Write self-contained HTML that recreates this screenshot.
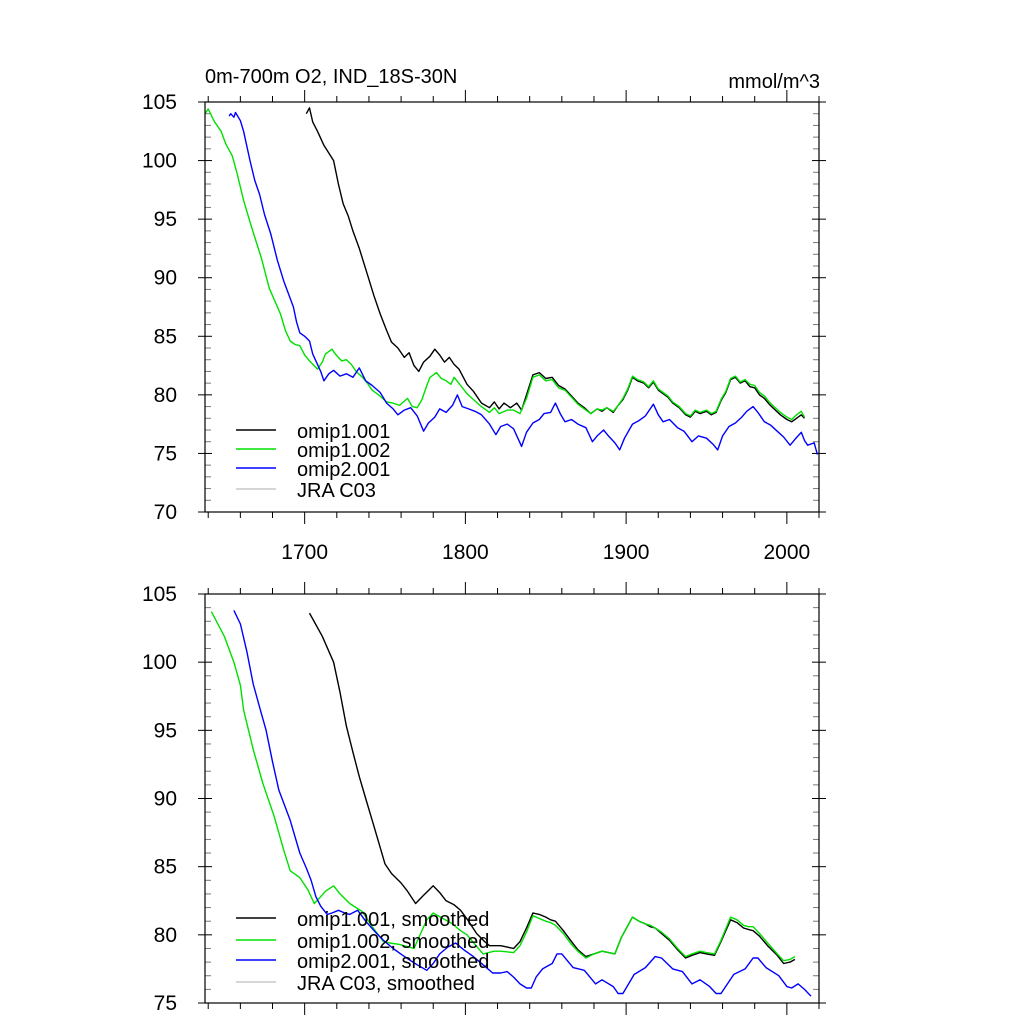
<!DOCTYPE html>
<html><head><meta charset="utf-8"><style>
body{margin:0;background:#fff}
svg{display:block;font-family:"Liberation Sans",sans-serif}
</style></head><body>
<svg id="c" width="1024" height="1024" viewBox="0 0 1024 1024">
<rect width="1024" height="1024" fill="#fff"/>
<text x="205" y="83" font-size="20">0m-700m O2, IND_18S-30N</text>
<text x="820" y="88" font-size="20" text-anchor="end">mmol/m^3</text>
</svg>
<script>
const xTicks=[1700,1800,1900,2000];
const yTicksTop=[70,75,80,85,90,95,100,105];
const yTicksBot=[75,80,85,90,95,100,105];
const legendTop=["omip1.001","omip1.002","omip2.001","JRA C03"];
const legendBot=["omip1.001, smoothed","omip1.002, smoothed","omip2.001, smoothed","JRA C03, smoothed"];
const colors=["#000","#00e000","#0000ff","#c8c8c8"];

const topBlackYr=[1701,1703,1705,1708,1712,1718,1721,1724,1727,1730,1734,1739,1743,1747,1751,1754,1758,1762,1765,1768,1771,1774,1778,1781,1784,1787,1790,1793,1796,1801,1805,1810,1815,1818,1821,1824,1828,1832,1835,1838,1842,1846,1850,1854,1858,1862,1866,1870,1874,1878,1882,1885,1888,1892,1895,1898,1901,1904,1907,1911,1914,1917,1920,1923,1926,1929,1933,1937,1940,1943,1946,1950,1953,1956,1959,1962,1965,1968,1971,1974,1977,1980,1983,1986,1989,1992,1996,2000,2003,2006,2009,2011];
const topBlackVal=[104.0,104.5,103.3,102.5,101.3,100,98,96.3,95.3,94,92.5,90.3,88.5,86.9,85.5,84.5,84,83.2,83.6,82.5,82,82.8,83.3,83.9,83.4,82.8,83.2,82.6,82.2,80.9,80.3,79.3,78.9,79.4,78.8,79.3,78.9,79.3,78.7,80.0,81.7,81.9,81.4,81.5,80.8,80.5,79.9,79.3,78.9,78.4,78.8,78.6,78.9,78.5,79.1,79.6,80.4,81.5,81.2,81.0,80.6,81.1,80.4,80.1,79.8,79.3,78.9,78.3,78.1,78.6,78.4,78.6,78.3,78.5,79.5,80.2,81.3,81.5,81.0,81.2,80.7,80.6,80.0,79.7,79.2,78.8,78.3,77.9,77.7,78.0,78.3,78.0];

const topGreenYr=[1638,1640,1644,1648,1651,1655,1658,1662,1667,1673,1678,1685,1688,1691,1694,1697,1700,1703,1708,1711,1713,1717,1719,1723,1726,1729,1732,1736,1739,1742,1746,1751,1755,1759,1764,1767,1770,1773,1776,1778,1782,1785,1788,1791,1793,1797,1801,1805,1809,1815,1818,1821,1826,1830,1834,1838,1842,1846,1850,1854,1858,1862,1866,1870,1874,1878,1882,1885,1888,1892,1895,1898,1901,1904,1907,1911,1914,1917,1920,1923,1926,1929,1933,1937,1940,1943,1946,1950,1953,1956,1959,1962,1965,1968,1971,1974,1977,1980,1983,1986,1989,1992,1996,2000,2003,2006,2009,2011];
const topGreenVal=[104,104.4,103.3,102.5,101.4,100.4,98.9,96.6,94.3,91.7,89.1,86.9,85.5,84.6,84.3,84.2,83.4,82.9,82.2,82.8,83.5,83.9,83.5,82.9,83.0,82.6,82.0,81.5,81.0,80.4,80.0,79.4,79.3,79.1,79.7,79.0,78.9,79.6,80.8,81.5,81.9,81.4,81.2,80.9,81.5,80.8,80.1,79.6,79.1,78.5,78.9,78.4,78.7,78.7,78.4,79.7,81.5,81.7,81.2,81.3,80.6,80.4,79.8,79.2,78.8,78.4,78.8,78.7,78.9,78.6,79.1,79.7,80.5,81.6,81.3,81.1,80.7,81.2,80.5,80.2,79.9,79.4,79.0,78.4,78.2,78.7,78.5,78.7,78.4,78.6,79.6,80.3,81.4,81.6,81.1,81.3,80.9,80.8,80.2,79.9,79.4,79.0,78.5,78.1,77.9,78.3,78.6,78.1];

const topBlueYr=[1653,1654,1656,1657,1660,1662,1666,1669,1672,1675,1679,1683,1687,1690,1693,1695,1697,1700,1703,1705,1707,1710,1712,1715,1718,1722,1726,1730,1734,1738,1742,1747,1751,1755,1758,1762,1766,1770,1774,1777,1781,1784,1788,1792,1795,1798,1802,1806,1810,1815,1819,1822,1826,1830,1835,1838,1842,1846,1849,1853,1856,1859,1862,1866,1870,1875,1879,1882,1886,1889,1893,1896,1899,1904,1908,1912,1917,1920,1923,1927,1932,1936,1941,1945,1950,1954,1957,1960,1964,1968,1972,1975,1979,1982,1986,1990,1994,1998,2002,2005,2009,2011,2013,2017,2019];
const topBlueVal=[103.8,104.0,103.7,104.1,103.4,102.5,100.0,98.3,97.1,95.4,93.7,91.5,89.7,88.6,87.5,86.2,85.3,85.0,84.6,83.5,82.9,82.0,81.2,81.8,82.1,81.6,81.8,81.5,82.3,81.2,80.8,80.2,79.3,78.8,78.3,78.7,78.9,78.2,76.9,77.6,78.1,78.8,78.5,79.1,80.0,79.0,78.8,78.6,78.3,77.5,76.6,77.3,77.5,77.1,75.6,76.8,77.6,77.9,78.4,78.5,79.3,78.4,77.7,77.9,77.5,77.2,76.0,76.5,77.0,76.5,75.9,75.3,76.3,77.5,77.8,78.2,79.2,78.3,77.7,77.9,77.2,76.9,76.0,76.5,76.3,75.8,75.3,76.5,77.3,77.6,78.1,78.6,79.0,78.5,77.7,77.4,76.9,76.4,75.7,76.2,76.8,76.1,75.7,75.9,74.9];

const botBlackYr=[1703,1711,1718,1722,1726,1730,1734,1738,1742,1746,1750,1754,1760,1764,1769,1774,1780,1784,1788,1793,1797,1802,1807,1812,1815,1822,1826,1830,1834,1838,1842,1846,1850,1853,1856,1861,1866,1870,1875,1880,1885,1889,1893,1897,1904,1908,1912,1915,1918,1922,1927,1932,1937,1941,1946,1950,1955,1959,1965,1969,1973,1976,1979,1983,1988,1994,1998,2002,2005];
const botBlackVal=[103.6,101.9,100,97.8,95.3,93.4,91.6,90.0,88.4,86.8,85.2,84.5,83.8,83.2,82.3,82.9,83.6,83.1,82.5,82.2,81.8,81.0,80.1,79.5,79.2,79.2,79.1,79.0,79.5,80.5,81.6,81.5,81.3,81.1,81.0,80.3,79.5,78.9,78.4,78.6,78.8,78.7,78.6,79.8,81.3,81.0,80.8,80.6,80.5,80.1,79.6,78.9,78.3,78.5,78.7,78.6,78.5,79.5,81.1,80.9,80.5,80.4,80.3,79.9,79.2,78.5,77.9,78.0,78.2];

const botGreenYr=[1642,1650,1656,1660,1662,1668,1674,1681,1687,1691,1697,1702,1706,1710,1713,1718,1722,1728,1732,1736,1742,1749,1753,1759,1768,1771,1776,1780,1786,1792,1797,1801,1806,1811,1818,1822,1830,1834,1838,1842,1846,1850,1853,1856,1861,1866,1870,1875,1880,1885,1889,1893,1897,1904,1908,1912,1915,1918,1922,1927,1932,1937,1941,1946,1950,1955,1959,1965,1969,1973,1976,1979,1983,1988,1994,1998,2002,2005];
const botGreenVal=[103.7,101.9,100.0,98.3,96.5,93.6,91.1,88.7,86.2,84.7,84.2,83.3,82.3,82.8,83.2,83.6,83.0,82.3,82.0,81.7,80.6,79.5,79.4,79.3,79.0,79.8,81.1,81.6,81.2,80.8,80.3,80.0,79.3,78.6,78.8,78.8,78.7,79.2,80.2,81.4,81.2,81.0,80.9,80.7,80.1,79.3,78.8,78.3,78.6,78.8,78.7,78.6,79.8,81.3,81.0,80.8,80.7,80.5,80.2,79.7,79.0,78.4,78.6,78.8,78.7,78.6,79.6,81.3,81.1,80.7,80.6,80.6,80.1,79.4,78.6,78.1,78.2,78.4];

const botBlueYr=[1656,1660,1664,1668,1672,1676,1680,1684,1691,1697,1701,1704,1707,1710,1714,1717,1721,1725,1728,1733,1738,1744,1749,1755,1761,1766,1770,1776,1780,1784,1789,1794,1799,1805,1811,1817,1822,1826,1830,1834,1838,1841,1844,1848,1854,1857,1860,1867,1874,1881,1885,1892,1895,1898,1905,1912,1918,1922,1929,1935,1941,1946,1952,1956,1959,1967,1974,1979,1982,1987,1995,2000,2003,2007,2011,2015];
const botBlueVal=[103.8,102.8,100.8,98.4,96.7,95.0,92.7,90.6,88.4,86.0,84.9,84.0,82.8,82.1,81.5,81.6,81.8,81.6,81.5,81.8,81.0,80.2,79.6,79.0,78.5,78.1,77.8,77.4,77.9,78.6,79.1,79.4,78.9,78.4,77.8,77.2,77.2,77.3,76.9,76.4,76.1,76.1,76.9,77.5,77.9,78.6,78.6,77.6,77.4,76.4,76.7,76.2,75.7,75.7,77.1,77.6,78.4,78.3,77.5,77.3,76.4,76.7,76.2,75.7,75.7,77.1,77.5,78.3,78.3,77.6,77.0,76.2,76.1,76.4,76.0,75.5];

const svg=document.getElementById('c');
const NS='http://www.w3.org/2000/svg';
const X0=205,X1=819,YR0=1638,YR1=2020;
function xs(yr){return X0+(yr-YR0)*(X1-X0)/(YR1-YR0);}
function mk(tag,attrs,parent){const e=document.createElementNS(NS,tag);for(const k in attrs)e.setAttribute(k,attrs[k]);(parent||svg).appendChild(e);return e;}

function panel(name,top,bot,vmin,vmax,yTicks,series,legend,legY){
  const g=mk('g',{});
  
  
  const ys=v=>bot-(v-vmin)*(bot-top)/(vmax-vmin);
  for(let yr=1640;yr<=2020;yr+=20){
    const major=yr%100===0;const L=major?12:6;const x=xs(yr);
    const t1=mk('line',{x1:x,x2:x,y1:top,y2:top-L,stroke:'#000','stroke-width':1},g);
    
    
    const t2=mk('line',{x1:x,x2:x,y1:bot,y2:bot+L,stroke:'#000','stroke-width':1},g);
    
    
  }
  for(let v=vmin;v<=vmax;v+=1){
    const y=ys(v);const major=v%5===0;
    if(major){
      mk('line',{x1:X0-7,x2:X0+7,y1:y,y2:y,stroke:'#000','stroke-width':1},g);
      mk('line',{x1:X1-7,x2:X1+7,y1:y,y2:y,stroke:'#000','stroke-width':1},g);
    }else{
      mk('line',{x1:X0,x2:X0+6,y1:y,y2:y,stroke:'#777','stroke-width':1},g);
      mk('line',{x1:X1-6,x2:X1,y1:y,y2:y,stroke:'#777','stroke-width':1},g);
    }
  }
  yTicks.forEach(v=>{
    const t=mk('text',{x:177,y:ys(v)+7,'font-size':21,'text-anchor':'end'},g);
    t.textContent=v;
    
    
  });
  series.forEach((s,i)=>{
    const d=s[0].map((yr,j)=>(j?'L':'M')+xs(yr).toFixed(1)+','+ys(s[1][j]).toFixed(1)).join('');
    const p=mk('path',{d:d,fill:'none',stroke:colors[i],'stroke-width':1.4,'stroke-linejoin':'round'},g);
    
    
  });
  legend.forEach((lab,i)=>{
    const y=legY[i];
    const l=mk('line',{x1:236,x2:276,y1:y,y2:y,stroke:colors[i],'stroke-width':1.6},g);
    
    
    const t=mk('text',{x:297,y:y+8,'font-size':20},g);
    t.textContent=lab;
    
    
  });
  const f=mk('rect',{x:X0,y:top,width:X1-X0,height:bot-top,fill:'none',stroke:'#000','stroke-width':1.2},g);
  
  
  return g;
}
panel('top-panel',102,512,70,105,yTicksTop,
  [[topBlackYr,topBlackVal],[topGreenYr,topGreenVal],[topBlueYr,topBlueVal]],legendTop,[430,449,468,489]);
panel('bottom-panel',594,1003,75,105,yTicksBot,
  [[botBlackYr,botBlackVal],[botGreenYr,botGreenVal],[botBlueYr,botBlueVal]],legendBot,[918,940,960,982]);
xTicks.forEach(yr=>{
  const t=mk('text',{x:xs(yr),y:559,'font-size':21,'text-anchor':'middle'});
  t.textContent=yr;
  
  
});
</script>
</body></html>
